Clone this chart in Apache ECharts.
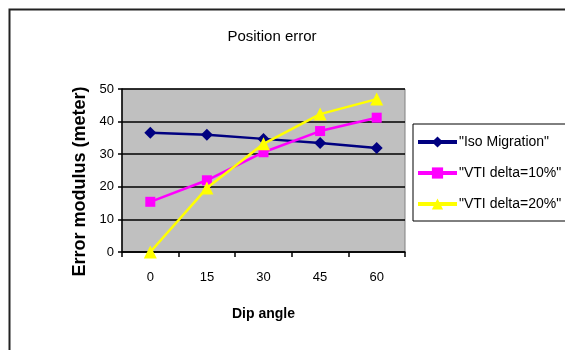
<!DOCTYPE html>
<html>
<head>
<meta charset="utf-8">
<script src="https://cdn.jsdelivr.net/npm/echarts@6/dist/echarts.min.js"></script>
<style>
  html, body { margin: 0; padding: 0; background: #fff; }
  #chart { width: 565px; height: 350px; }
</style>
</head>
<body>
<div id="chart"></div>
<script>
// Dip angles (degrees) on the category axis
const dipAngles = ['0', '15', '30', '45', '60'];

// Error modulus in meters for each method
const isoMigration = [36.6, 36.0, 34.7, 33.4, 31.9];
const vtiDelta10 = [15.4, 22.0, 30.6, 37.1, 41.2];
const vtiDelta20 = [0, 19.6, 33.2, 42.3, 46.9];

const seriesNames = ['"Iso Migration"', '"VTI delta=10%"', '"VTI delta=20%"'];
const yTicks = [0, 10, 20, 30, 40, 50];

const FONT = '"Liberation Sans Narrow", "Liberation Sans", Arial, sans-serif';

const chart = echarts.init(document.getElementById('chart'), null, { renderer: 'canvas' });

chart.setOption({
  animation: false,
  backgroundColor: '#ffffff',
  graphic: [
    {
      type: 'rect',
      shape: { x: 9.5, y: 9.5, width: 600, height: 400 },
      style: { fill: 'none', stroke: '#222', lineWidth: 2 },
      silent: true,
      z: 0
    }
  ],
  title: {
    text: 'Position error',
    left: 267,
    top: 24,
    textAlign: 'center',
    textStyle: { fontFamily: FONT, fontSize: 15, fontWeight: 'normal', color: '#000' }
  },
  legend: {
    orient: 'vertical',
    left: 413,
    top: 124,
    padding: [11, 40, 10, 3],
    itemGap: 17,
    itemWidth: 39,
    itemHeight: 14,
    borderColor: '#000',
    borderWidth: 1,
    backgroundColor: '#fff',
    lineStyle: { width: 4 },
    textStyle: { fontFamily: FONT, fontSize: 14, color: '#000', padding: [0, 0, 0, -3] },
    data: seriesNames
  },
  grid: {
    left: 122,
    top: 89,
    right: 160,
    bottom: 98,
    show: true,
    backgroundColor: '#c0c0c0',
    borderColor: '#808080',
    borderWidth: 1
  },
  xAxis: {
    type: 'category',
    data: dipAngles,
    boundaryGap: true,
    name: 'Dip angle',
    nameLocation: 'middle',
    nameGap: 55,
    nameTextStyle: { fontFamily: FONT, fontSize: 14, fontWeight: 'bold', color: '#000' },
    axisLine: { lineStyle: { color: '#000', width: 1.5 } },
    axisTick: { show: true, inside: false, length: 5, alignWithLabel: false, lineStyle: { color: '#000', width: 1.5 } },
    axisLabel: { margin: 19, fontFamily: FONT, fontSize: 13, color: '#000' },
    splitLine: { show: false }
  },
  yAxis: {
    type: 'value',
    min: yTicks[0],
    max: yTicks[yTicks.length - 1],
    interval: 10,
    name: 'Error modulus (meter)',
    nameLocation: 'middle',
    nameGap: 33,
    nameRotate: 90,
    nameTextStyle: { fontFamily: FONT, fontSize: 18, fontWeight: 'bold', color: '#000', padding: [0, 22, 0, 0] },
    axisLine: { show: true, lineStyle: { color: '#000', width: 1.5 } },
    axisTick: { show: true, inside: false, length: 4, lineStyle: { color: '#000', width: 1.5 } },
    axisLabel: { margin: 8, fontFamily: FONT, fontSize: 13, color: '#000' },
    splitLine: { show: true, lineStyle: { color: '#000', width: 1.5 } }
  },
  series: [
    {
      name: seriesNames[0],
      type: 'line',
      data: isoMigration,
      symbol: 'diamond',
      symbolSize: 12,
      color: '#000080',
      lineStyle: { width: 2.5, color: '#000080' },
      itemStyle: { color: '#000080' },
      z: 3
    },
    {
      name: seriesNames[1],
      type: 'line',
      data: vtiDelta10,
      symbol: 'rect',
      symbolSize: 10,
      color: '#ff00ff',
      lineStyle: { width: 2.5, color: '#ff00ff' },
      itemStyle: { color: '#ff00ff' },
      z: 4
    },
    {
      name: seriesNames[2],
      type: 'line',
      data: vtiDelta20,
      symbol: 'triangle',
      symbolSize: 13,
      color: '#ffff00',
      lineStyle: { width: 2.5, color: '#ffff00' },
      itemStyle: { color: '#ffff00' },
      z: 5
    }
  ]
});
</script>
</body>
</html>
